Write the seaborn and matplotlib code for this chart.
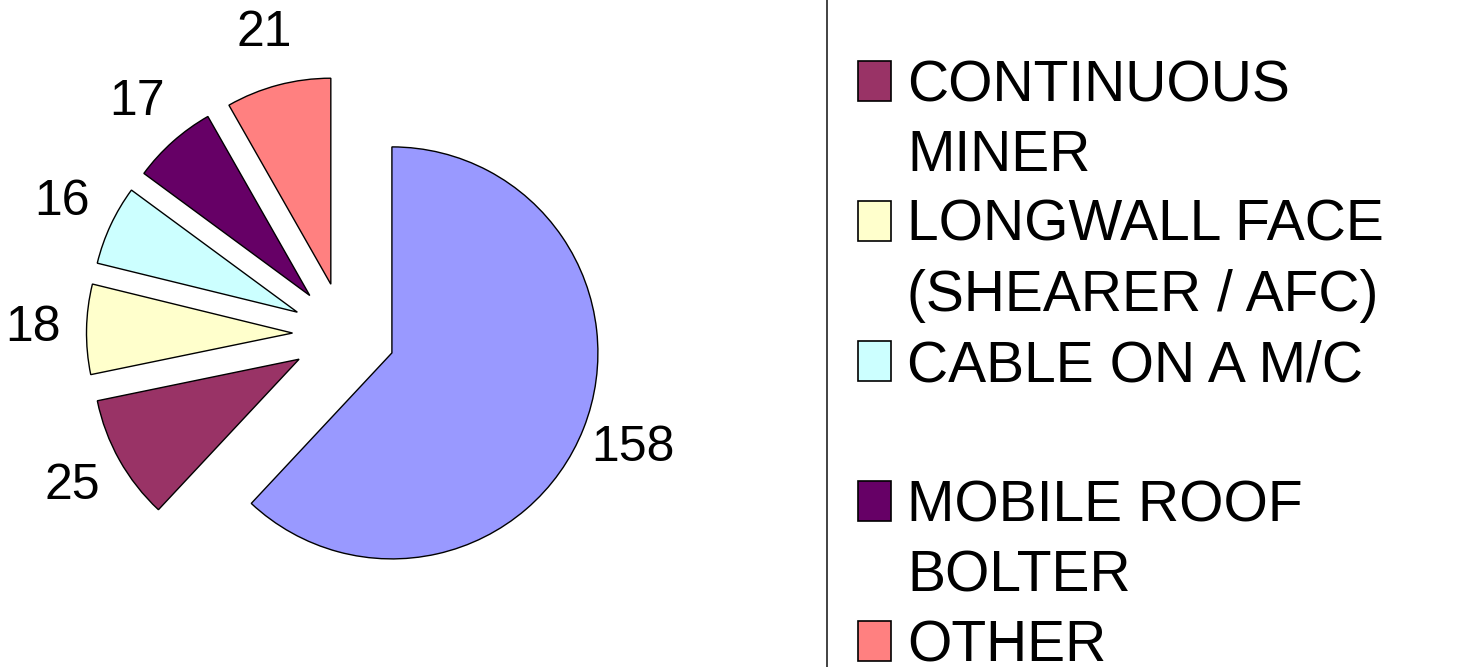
import matplotlib
matplotlib.use("Agg")
import matplotlib.pyplot as plt
from matplotlib.lines import Line2D
from matplotlib.patches import Rectangle
import seaborn as sns

# slices, clockwise from 12 o'clock
values = [158, 25, 18, 16, 17, 21]
colors = ["#9999FF", "#993366", "#FFFFCC", "#CCFFFF", "#660066", "#FF8080"]

# legend entries visible in the picture (first one is cut off above)
legend_labels = ["CONTINUOUS\nMINER", "LONGWALL FACE\n(SHEARER / AFC)", "CABLE ON A M/C\n",
                 "MOBILE ROOF\nBOLTER", "OTHER"]
legend_colors = colors[1:]

W, H = 1482, 667

sns.set_theme(style="white")
plt.rcParams["font.family"] = ["Liberation Sans", "DejaVu Sans"]

fig = plt.figure(figsize=(W / 100, H / 100), dpi=100)
ax = fig.add_axes([0, 0, 1, 1])

total = sum(values)
ax.pie(values, colors=colors, startangle=90, counterclock=False,
       explode=[0.25] * len(values), radius=1,
       wedgeprops=dict(edgecolor="black", linewidth=1),
       autopct=lambda p: "{:d}".format(round(p * total / 100)),
       pctdistance=1.26,
       textprops=dict(fontsize=36, color="black"))

# pie centre at (344, 334) px, radius 206 px
R, cx, cy = 206.0, 344.0, 334.0
ax.set_xlim(-cx / R, (W - cx) / R)
ax.set_ylim(-(H - cy) / R, cy / R)
ax.set_aspect("auto")
ax.axis("off")

# legend box edge
fig.add_artist(Line2D([827 / W, 827 / W], [0, 1], transform=fig.transFigure,
                      color="#222222", lw=1.2))

for i, (lab, col) in enumerate(zip(legend_labels, legend_colors)):
    base = 101 + 140 * i
    fig.add_artist(Rectangle((858 / W, (H - base) / H), 33 / W, 40 / H,
                             transform=fig.transFigure, facecolor=col,
                             edgecolor="black", lw=1.2))
    for j, line in enumerate(lab.split("\n")):
        if line:
            fig.text(907 / W, (H - base - 70 * j) / H, line, fontsize=41,
                     va="baseline", ha="left", color="black")

fig.savefig("out.png", dpi=100, facecolor="white")
